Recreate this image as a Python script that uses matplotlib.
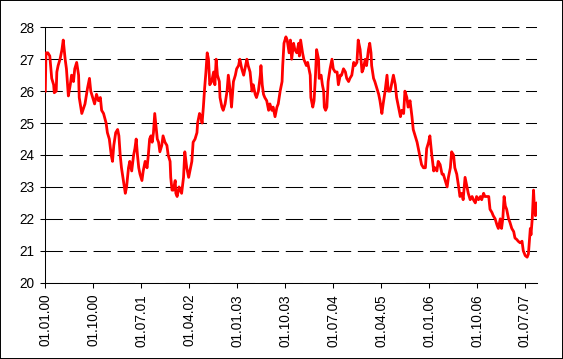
import numpy as np
import pandas as pd
import matplotlib
matplotlib.use("Agg")
import matplotlib.pyplot as plt
import matplotlib.dates as mdates
from matplotlib.patches import Rectangle

plt.rcParams['font.family'] = ['Liberation Sans', 'DejaVu Sans']
plt.rcParams['lines.scale_dashes'] = False

# Time positions as decimal years
years = [
    2000.00, 2000.01, 2000.04, 2000.07, 2000.10, 2000.13, 2000.14, 2000.17, 2000.18, 2000.20,
    2000.23, 2000.26, 2000.28, 2000.31, 2000.33, 2000.36, 2000.39, 2000.41, 2000.44, 2000.46,
    2000.49, 2000.52, 2000.53, 2000.57, 2000.62, 2000.66, 2000.69, 2000.71, 2000.74, 2000.77,
    2000.80, 2000.83, 2000.86, 2000.88, 2000.91, 2000.95, 2000.97, 2001.00, 2001.03, 2001.05,
    2001.07, 2001.10, 2001.13, 2001.15, 2001.17, 2001.19, 2001.22, 2001.25, 2001.27, 2001.30,
    2001.32, 2001.35, 2001.38, 2001.40, 2001.42, 2001.44, 2001.46, 2001.48, 2001.51, 2001.53,
    2001.56, 2001.59, 2001.61, 2001.63, 2001.65, 2001.67, 2001.69, 2001.71, 2001.73, 2001.75,
    2001.77, 2001.79, 2001.82, 2001.84, 2001.87, 2001.90, 2001.92, 2001.95, 2001.96, 2001.98,
    2002.00, 2002.03, 2002.04, 2002.06, 2002.09, 2002.11, 2002.13, 2002.16, 2002.18, 2002.21,
    2002.24, 2002.26, 2002.29, 2002.31, 2002.34, 2002.37, 2002.38, 2002.41, 2002.43, 2002.45,
    2002.47, 2002.49, 2002.51, 2002.53, 2002.55, 2002.57, 2002.60, 2002.63, 2002.65, 2002.67,
    2002.69, 2002.72, 2002.73, 2002.76, 2002.78, 2002.81, 2002.84, 2002.86, 2002.89, 2002.91,
    2002.94, 2002.97, 2002.99, 2003.02, 2003.04, 2003.07, 2003.10, 2003.12, 2003.15, 2003.17,
    2003.20, 2003.23, 2003.25, 2003.28, 2003.30, 2003.33, 2003.36, 2003.37, 2003.39, 2003.41,
    2003.43, 2003.46, 2003.49, 2003.51, 2003.54, 2003.56, 2003.59, 2003.62, 2003.64, 2003.67,
    2003.70, 2003.71, 2003.73, 2003.76, 2003.78, 2003.81, 2003.83, 2003.85, 2003.88, 2003.90,
    2003.93, 2003.96, 2003.97, 2003.99, 2004.02, 2004.04, 2004.08, 2004.10, 2004.12, 2004.14,
    2004.15, 2004.18, 2004.20, 2004.22, 2004.24, 2004.27, 2004.28, 2004.31, 2004.33, 2004.35,
    2004.36, 2004.38, 2004.40, 2004.42, 2004.45, 2004.48, 2004.50, 2004.53, 2004.56, 2004.58,
    2004.61, 2004.63, 2004.66, 2004.69, 2004.71, 2004.74, 2004.76, 2004.79, 2004.82, 2004.84,
    2004.87, 2004.89, 2004.92, 2004.95, 2004.97, 2005.00, 2005.02, 2005.05, 2005.07, 2005.09,
    2005.10, 2005.13, 2005.15, 2005.18, 2005.21, 2005.23, 2005.26, 2005.28, 2005.31, 2005.34,
    2005.36, 2005.39, 2005.42, 2005.44, 2005.47, 2005.49, 2005.52, 2005.55, 2005.57, 2005.60,
    2005.62, 2005.65, 2005.67, 2005.70, 2005.73, 2005.75, 2005.78, 2005.81, 2005.83, 2005.86,
    2005.88, 2005.91, 2005.94, 2005.96, 2005.99, 2006.01, 2006.04, 2006.07, 2006.09, 2006.12,
    2006.14, 2006.17, 2006.20, 2006.22, 2006.25, 2006.28, 2006.30, 2006.33, 2006.35, 2006.38,
    2006.40, 2006.43, 2006.46, 2006.48, 2006.51, 2006.53, 2006.56, 2006.59, 2006.61, 2006.64,
    2006.67, 2006.69, 2006.72, 2006.74, 2006.77, 2006.80, 2006.82, 2006.85, 2006.87, 2006.90,
    2006.93, 2006.95, 2006.98, 2007.00, 2007.03, 2007.06, 2007.08, 2007.11, 2007.13, 2007.15,
    2007.17, 2007.19, 2007.21, 2007.24, 2007.26, 2007.29, 2007.32, 2007.34, 2007.37, 2007.39,
    2007.42, 2007.45, 2007.47, 2007.50, 2007.53, 2007.55, 2007.58, 2007.59, 2007.61, 2007.63,
    2007.64, 2007.66, 2007.68, 2007.70,
]
values = [
    26.0, 27.2, 27.2, 27.1, 26.4, 26.2, 25.95, 26.0, 26.6, 26.8,
    27.0, 27.3, 27.6, 27.0, 26.7, 25.85, 26.2, 26.5, 26.3, 26.7,
    26.9, 26.5, 25.8, 25.3, 25.6, 26.1, 26.4, 26.0, 25.8, 25.6,
    25.9, 25.7, 25.8, 25.4, 25.3, 25.0, 24.7, 24.5, 24.0, 23.8,
    24.3, 24.7, 24.8, 24.6, 24.0, 23.6, 23.2, 22.8, 23.0, 23.6,
    23.8, 23.5, 24.0, 24.2, 24.5, 24.0, 23.6, 23.4, 23.2, 23.5,
    23.8, 23.6, 24.0, 24.5, 24.6, 24.4, 24.7, 25.3, 24.9, 24.5,
    24.4, 24.1, 24.3, 24.6, 24.4, 24.3, 24.0, 23.8, 23.3, 22.9,
    22.9, 23.2, 22.8, 22.7, 23.0, 22.9, 22.8, 23.3, 24.1, 23.6,
    23.3, 23.5, 23.8, 24.4, 24.5, 24.7, 25.0, 25.3, 25.2, 25.0,
    25.5, 26.1, 26.6, 27.2, 27.0, 26.2, 26.3, 26.6, 26.2, 27.0,
    26.5, 26.3, 25.8, 25.5, 25.4, 25.6, 26.0, 26.5, 26.0, 25.5,
    26.3, 26.5, 26.7, 26.8, 27.0, 26.7, 26.5, 26.7, 27.0, 26.8,
    26.6, 26.0, 26.2, 25.9, 25.8, 26.0, 26.5, 26.8, 26.2, 25.9,
    25.8, 25.7, 25.4, 25.6, 25.4, 25.5, 25.2, 25.5, 25.6, 26.0,
    26.3, 26.8, 27.5, 27.7, 27.6, 27.2, 27.6, 27.0, 27.5, 27.3,
    27.2, 27.5, 27.1, 27.6, 27.2, 27.0, 26.8, 26.9, 26.7, 26.5,
    25.8, 25.5, 25.7, 26.4, 27.3, 27.0, 26.4, 26.5, 26.2, 26.0,
    25.5, 25.4, 25.5, 26.3, 26.7, 27.0, 26.7, 26.6, 26.6, 26.2,
    26.5, 26.5, 26.7, 26.6, 26.4, 26.3, 26.4, 26.5, 26.9, 26.8,
    26.9, 27.6, 27.3, 26.6, 26.7, 27.0, 26.8, 27.3, 27.5, 27.2,
    26.8, 26.4, 26.3, 26.1, 25.9, 25.7, 25.3, 25.6, 26.0, 26.5,
    26.0, 26.0, 26.3, 26.5, 26.2, 25.8, 25.5, 25.2, 25.4, 25.3,
    26.0, 25.8, 25.5, 25.7, 25.2, 24.8, 24.6, 24.4, 24.2, 23.9,
    23.7, 23.6, 23.6, 24.2, 24.4, 24.6, 24.0, 23.5, 23.6, 23.5,
    23.8, 23.7, 23.4, 23.4, 23.2, 23.0, 23.3, 23.6, 24.1, 24.0,
    23.6, 23.4, 23.0, 22.7, 22.8, 22.6, 23.3, 23.0, 22.8, 22.6,
    22.7, 22.6, 22.5, 22.7, 22.6, 22.7, 22.6, 22.8, 22.7, 22.7,
    22.7, 22.3, 22.2, 22.1, 22.0, 21.8, 21.7, 22.0, 21.7, 22.0,
    22.7, 22.4, 22.3, 22.0, 21.9, 21.7, 21.6, 21.4, 21.35, 21.3,
    21.25, 21.3, 21.0, 20.85, 20.8, 20.9, 21.7, 21.5, 22.0, 22.9,
    22.5, 22.1, 22.5, 22.2,
]
tick_dates = ["2000-01-01", "2000-10-01", "2001-07-01", "2002-04-01", "2003-01-01",
              "2003-10-01", "2004-07-01", "2005-04-01", "2006-01-01", "2006-10-01",
              "2007-07-01"]
y_ticks = [20, 21, 22, 23, 24, 25, 26, 27, 28]

# decimal years -> timestamps
dates = pd.Timestamp("2000-01-01") + pd.to_timedelta((np.array(years) - 2000) * 365.25, unit="D")

fig = plt.figure(figsize=(5.63, 3.59), dpi=100)
ax = fig.add_axes([0.0805, 0.2125, 0.8728, 0.7115])

ax.plot(dates, values, color="#ff0000", lw=2.0, zorder=3)

ax.set_ylim(20, 28)
ax.set_xlim(pd.Timestamp("2000-01-01"), pd.Timestamp("2007-09-06"))
ax.set_yticks(y_ticks)
ax.set_xticks(pd.to_datetime(tick_dates))
ax.xaxis.set_major_formatter(mdates.DateFormatter("%d.%m.%y"))

ax.yaxis.grid(True, color="black", lw=0.75, linestyle=(0, (12.5, 4.8)))
ax.set_axisbelow(True)

for side in ["top", "right"]:
    ax.spines[side].set_visible(False)
for side in ["left", "bottom"]:
    ax.spines[side].set_linewidth(0.75)
    ax.spines[side].set_color("black")

ax.tick_params(axis="both", direction="out", length=3.6, width=0.75,
               colors="black", labelsize=9.8)
ax.tick_params(axis="y", pad=4.5)
ax.tick_params(axis="x", pad=4.5, labelrotation=90)

# thin frame around the whole picture
fig.patches.append(Rectangle((0, 0), 1, 1, transform=fig.transFigure,
                             fill=False, edgecolor="black", lw=1.4))

fig.savefig("out.png", dpi=100)
